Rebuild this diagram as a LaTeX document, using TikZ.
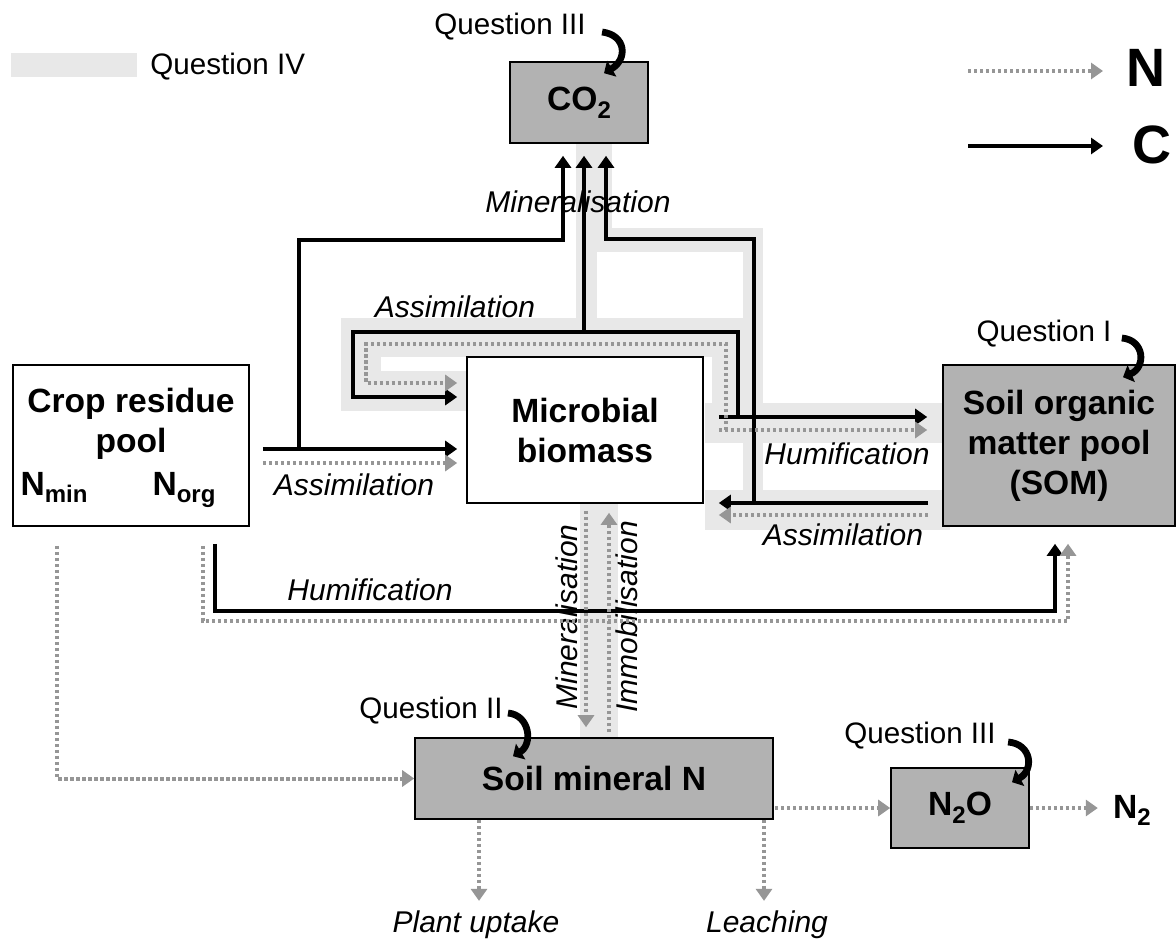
\documentclass[tikz,border=0pt]{standalone}
\usepackage{fontspec}
\setmainfont{Liberation Sans}
\usetikzlibrary{arrows.meta,calc}
\definecolor{boxgrey}{RGB}{178,178,178}
\definecolor{bandgrey}{RGB}{232,232,232}
\definecolor{ngrey}{RGB}{150,150,150}
\newcommand{\poolfont}{\fontsize{16.8}{20}\selectfont\bfseries}
\newcommand{\flowfont}{\fontsize{15}{18}\selectfont\itshape}
\newcommand{\qfont}{\fontsize{14.8}{18}\selectfont}
\newcommand{\legfont}{\fontsize{27}{30}\selectfont\bfseries}
\newcommand{\lowsub}[1]{\raisebox{-0.45ex}{\fontsize{12}{12}\selectfont #1}}
\tikzset{
  pool/.style={draw=black, line width=0.8pt, fill=white, align=center, inner sep=0pt, font=\poolfont},
  greypool/.style={pool, fill=boxgrey},
  carrow/.style={line width=1.8pt, -{Triangle[length=6pt,width=8pt]}},
  narrow/.style={ngrey, line width=2pt, dash pattern=on 1.6pt off 1.4pt, -{Triangle[length=6pt,width=8pt]}},
  flow/.style={font=\flowfont, inner sep=0pt, anchor=base},
  quest/.style={font=\qfont, inner sep=0pt, anchor=base},
  qarrow/.style={line width=3.4pt, -{Triangle[length=4.5pt,width=9pt]}},
  band/.style={fill=bandgrey, draw=none},
}
\begin{document}
\begin{tikzpicture}[x=0.5pt, y=-0.5pt]
  \useasboundingbox (0,0) rectangle (1176,940);
  \fill[white] (0,0) rectangle (1176,940);

  % Question IV shading
  \fill[band] (11,53) rectangle (137,77);
  \fill[band] (576,143) rectangle (612,252);
  \fill[band] (576,228) rectangle (763,252);
  \fill[band] (743,228) rectangle (763,530);
  \fill[band] (576,252) rectangle (597,318);
  \fill[band] (341,318) rectangle (763,357);
  \fill[band] (341,357) rectangle (381,411);
  \fill[band] (381,371) rectangle (467,411);
  \fill[band] (712,357) rectangle (763,403);
  \fill[band] (705,403) rectangle (950,443);
  \fill[band] (705,490) rectangle (950,530);
  \fill[band] (580,503) rectangle (618,738);

  % pools
  \node[pool, minimum width=118pt, minimum height=80.5pt] (crop) at (131,445.5) {};
  \node[font=\poolfont, align=center, inner sep=0pt] (croptxt) at (131,424) {Crop residue\\pool};
  \node[font=\poolfont, inner sep=0pt, anchor=base] (nmin) at (54,495) {N\lowsub{min}};
  \node[font=\poolfont, inner sep=0pt, anchor=base] (norg) at (184,495) {N\lowsub{org}};
  \node[greypool, minimum width=69pt, minimum height=40.5pt] (co2) at (579,102.5) {CO\lowsub{2}};
  \node[pool, minimum width=118pt, minimum height=73pt] (bio) at (585,430) {Microbial\\biomass};
  \node[greypool, minimum width=116pt, minimum height=80.5pt] (som) at (1059,445.5) {Soil organic\\matter pool\\(SOM)};
  \node[greypool, minimum width=179pt, minimum height=40.5pt] (soiln) at (594,778.5) {Soil mineral N};
  \node[greypool, minimum width=69pt, minimum height=40pt] (n2o) at (960,808) {N\lowsub{2}O};
  \node[font=\poolfont, inner sep=0pt, anchor=base] (n2) at (1132,818) {N\lowsub{2}};

  % legend
  \node[quest, anchor=base west] (q4) at (150,75) {Question IV};
  \node[font=\legfont, inner sep=0pt, anchor=base] (legn) at (1146,87) {N};
  \node[font=\legfont, inner sep=0pt, anchor=base] (legc) at (1152,164) {C};
  \coordinate (legna) at (968,71);
  \coordinate (legca) at (968,146);
  \draw[narrow] (legna) -- ($(legna)+(135,0)$);
  \draw[carrow] (legca) -- ($(legca)+(135,0)$);

  % flow labels
  \node[flow] (minco2) at (578,213) {Mineralisation};
  \node[flow] (assloop) at (455,318) {Assimilation};
  \node[flow] (asscrop) at (354,495) {Assimilation};
  \node[flow] (humbio) at (847,465) {Humification};
  \node[flow] (asssom) at (843,545) {Assimilation};
  \node[flow] (humcrop) at (370,600) {Humification};
  \node[flow] (uptake) at (476,932) {Plant uptake};
  \node[flow] (leach) at (767,932) {Leaching};
  \node[font=\flowfont, inner sep=0pt, rotate=90] (minsoil) at (567,617) {Mineralisation};
  \node[font=\flowfont, inner sep=0pt, rotate=90] (immsoil) at (627,617) {Immobilisation};

  % questions
  \node[quest] (q3co2) at (510,35) {Question III};
  \node[quest] (q1) at (1044,342) {Question I};
  \node[quest] (q2) at (431,718) {Question II};
  \node[quest] (q3n2o) at (920,743) {Question III};
  \draw[qarrow] ($(q3co2.base east)+(16,-3)$) .. controls +(24,3) and +(24,-14) .. ($(co2.north)+(25,12)$);
  \draw[qarrow] ($(q1.base east)+(10,-4)$) .. controls +(23,2) and +(23,-10) .. ($(som.north)+(64,13)$);
  \draw[qarrow] ($(q2.base east)+(5,-5)$) .. controls +(22,2) and +(20,-12) .. ($(soiln.north)+(-81,19)$);
  \draw[qarrow] ($(q3n2o.base east)+(12,-1)$) .. controls +(24,2) and +(22,-12) .. ($(n2o.north)+(52,15)$);

  % junctions
  \coordinate (j1) at ($(crop.east)+(49,3.5)$);
  \coordinate (j2) at ($(bio.north)+(-1,-25)$);
  \coordinate (j3) at ($(bio.east)+(50,73)$);
  \coordinate (j4) at ($(bio.east)+(34,-13)$);
  \coordinate (j5) at ($(bio.east)+(22,0)$);

  % C flows
  \draw[carrow] ($(crop.east)+(13,3.5)$) -- ($(bio.west)+(-9,19)$);
  \draw[carrow] (j1) |- ($(co2.south)+(-16,96)$) -- ($(co2.south)+(-16,12)$);
  \draw[carrow] (j2) -- ($(co2.south)+(5,12)$);
  \draw[carrow] (j3) |- ($(co2.south)+(27,95)$) -- ($(co2.south)+(27,12)$);
  \draw[carrow] ($(som.west)+(-14,57.5)$) -- ($(bio.east)+(15,73)$);
  \draw[carrow] ($(bio.east)+(15,-13)$) -- ($(som.west)+(-15,-28.5)$);
  \draw[carrow] (j4) |- ($(bio.west)+(-113,-98)$) |- ($(bio.west)+(-9,-33)$);
  \draw[carrow] ($(crop.south)+(84,17)$) |- ($(som.south)+(-4,84)$) -- ($(som.south)+(-4,17)$);

  % N flows
  \draw[narrow] ($(crop.east)+(13,17.5)$) -- ($(bio.west)+(-9,33)$);
  \draw[narrow] (j5) |- ($(bio.west)+(-100,-86)$) |- ($(bio.west)+(-9,-47)$);
  \draw[narrow] ($(bio.east)+(15,0)$) -- ($(som.west)+(-15,-15.5)$);
  \draw[narrow] ($(som.west)+(-14,69.5)$) -- ($(bio.east)+(15,85)$);
  \draw[narrow] ($(crop.south)+(72,19)$) |- ($(som.south)+(9,94)$) -- ($(som.south)+(9,17)$);
  \draw[narrow] ($(crop.south)+(-74,19)$) |- (soiln.west);
  \draw[narrow] ($(bio.south)+(1,7)$) -- ($(soiln.north)+(-8,-10)$);
  \draw[narrow] ($(soiln.north)+(15,-5)$) -- ($(bio.south)+(24,9)$);
  \draw[narrow] ($(soiln.east)+(1,29.5)$) -- (n2o.west);
  \draw[narrow] (n2o.east) -- ($(n2o.east)+(68,0)$);
  \draw[narrow] ($(soiln.south)+(-115,0)$) -- ($(uptake.north)+(3,-9)$);
  \draw[narrow] ($(soiln.south)+(170,0)$) -- ($(leach.north)+(-3,-9)$);
\end{tikzpicture}
\end{document}
